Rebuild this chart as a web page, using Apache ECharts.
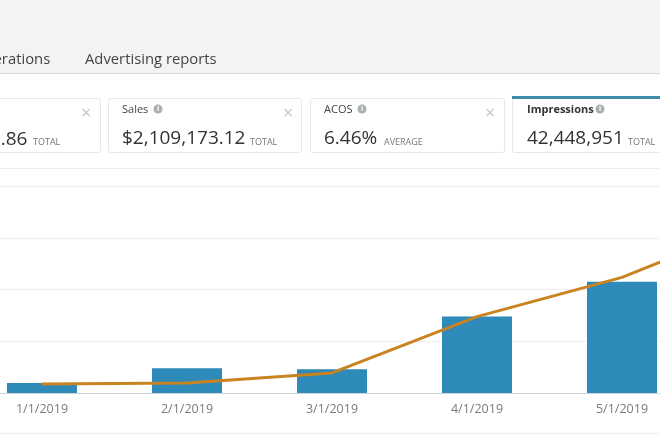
<!DOCTYPE html>
<html>
<head>
<meta charset="utf-8">
<script src="https://cdn.jsdelivr.net/npm/echarts@6/dist/echarts.min.js"></script>
<style>
html, body { margin: 0; padding: 0; background: #fff; }
#main { width: 660px; height: 440px; }
</style>
</head>
<body>
<div id="main"></div>
<script>
// values, the y axis labels are cropped so the unit is a guess
const months = ['1/1/2019', '2/1/2019', '3/1/2019', '4/1/2019', '5/1/2019', '6/1/2019'];
const barValues = [970000, 2400000, 2300000, 7400000, 10750000, 16000000];
const lineValues = [870000, 970000, 1940000, 7380000, 11170000, 16800000];

const font = '"Open Sans", sans-serif';

function card(x, w) {
    return {
        type: 'rect',
        shape: {x: x + 0.5, y: 98.5, width: w, height: 54, r: 2},
        style: {fill: '#fff', stroke: '#e7e9e9', lineWidth: 1}
    };
}

function label(x, y, text, size, color, weight) {
    return {
        type: 'text',
        x: x,
        y: y,
        style: {text: text, fontFamily: font, fontSize: size, fill: color, fontWeight: weight || 'normal', textVerticalAlign: 'middle'}
    };
}

function closeMark(x) {
    return label(x, 114, '\u00d7', 18, '#c4c6c6');
}

function infoDot(x, y) {
    return [
        {type: 'circle', shape: {cx: x, cy: y, r: 4.5}, style: {fill: '#aab0b0'}},
        {type: 'text', x: x, y: y, style: {text: 'i', fontFamily: font, fontSize: 7, fontWeight: 'bold', fill: '#fff', align: 'center', verticalAlign: 'middle'}}
    ];
}

const chrome = [
    {type: 'rect', shape: {x: 0, y: 0, width: 660, height: 73}, style: {fill: '#f3f3f3'}},
    {type: 'rect', shape: {x: 0, y: 73, width: 660, height: 1}, style: {fill: '#d9dbdb'}},
    {type: 'rect', shape: {x: 0, y: 168, width: 660, height: 1}, style: {fill: '#eeeeee'}},
    {type: 'rect', shape: {x: 0, y: 433, width: 660, height: 1}, style: {fill: '#eeeeee'}},
    label(-27, 60, 'Operations', 14.8, '#444'),
    label(85, 60, 'Advertising reports', 14.8, '#444'),
    card(-20, 120),
    card(108, 193),
    card(310, 194),
    card(512, 170),
    {type: 'rect', shape: {x: 512, y: 96, width: 148, height: 3}, style: {fill: '#3f8cac'}},
    label(-21, 140, '$7.86', 19, '#333'),
    label(33, 142, 'TOTAL', 9, '#777'),
    closeMark(81),
    label(122, 110, 'Sales', 11, '#444'),
    ...infoDot(158, 109),
    label(122, 139, '$2,109,173.12', 19, '#333'),
    label(250, 142, 'TOTAL', 9, '#777'),
    closeMark(283),
    label(324, 110, 'ACOS', 11, '#444'),
    ...infoDot(362, 109),
    label(324, 139, '6.46%', 19, '#333'),
    label(384, 142, 'AVERAGE', 9, '#777'),
    closeMark(485),
    label(527, 110, 'Impressions', 11, '#333', 'bold'),
    ...infoDot(600, 109),
    label(527, 139, '42,448,951', 19, '#333'),
    label(628, 142, 'TOTAL', 9, '#777')
];

const chart = echarts.init(document.getElementById('main'));
chart.setOption({
    animation: false,
    backgroundColor: '#fff',
    graphic: {elements: chrome},
    grid: {left: -30.5, top: 186, width: 870, height: 207, outerBoundsMode: 'none'},
    xAxis: {
        type: 'category',
        data: months,
        axisTick: {show: false},
        axisLine: {lineStyle: {color: '#ccd3da', width: 1}},
        axisLabel: {color: '#7b7b7b', fontSize: 12.5, fontFamily: font, margin: 10}
    },
    yAxis: {
        type: 'value',
        min: 0,
        max: 20000000,
        interval: 5000000,
        axisLabel: {show: false},
        axisLine: {show: false},
        axisTick: {show: false},
        splitLine: {lineStyle: {color: '#eeeeee', width: 1}}
    },
    series: [
        {
            name: 'Impressions',
            type: 'bar',
            data: barValues,
            barWidth: 70,
            itemStyle: {color: '#2e8ab8'}
        },
        {
            name: 'Sales',
            type: 'line',
            data: lineValues,
            showSymbol: false,
            lineStyle: {color: '#c98320', width: 3}
        }
    ]
});
</script>
</body>
</html>
